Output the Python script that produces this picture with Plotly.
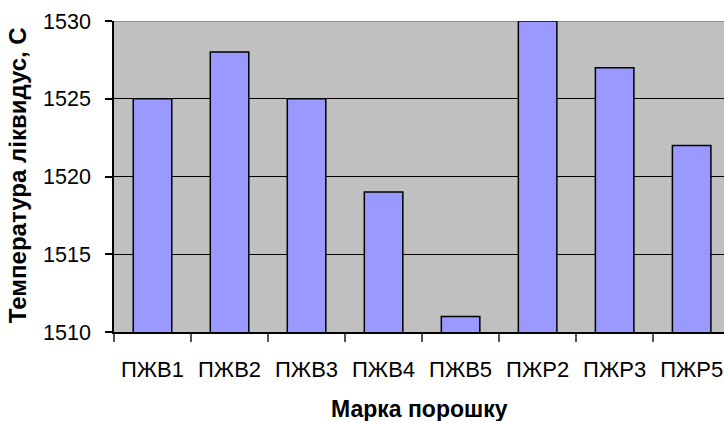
import plotly.graph_objects as go

# Liquidus temperature by powder grade
grades = ["ПЖВ1", "ПЖВ2", "ПЖВ3", "ПЖВ4", "ПЖВ5", "ПЖР2", "ПЖР3", "ПЖР5"]
liquidus_temp = [1525, 1528, 1525, 1519, 1511, 1530, 1527, 1522]
y_ticks = [1510, 1515, 1520, 1525, 1530]

FONT = "Liberation Sans, Arial, sans-serif"

fig = go.Figure(
    go.Bar(
        x=grades,
        y=liquidus_temp,
        marker=dict(color="#9999FF", line=dict(color="#000000", width=1.5)),
        hoverinfo="x+y",
    )
)

fig.update_layout(
    width=724,
    height=421,
    margin=dict(l=114, r=0, t=21, b=89),
    paper_bgcolor="#FFFFFF",
    plot_bgcolor="#C0C0C0",
    bargap=0.5,
    showlegend=False,
    font=dict(family=FONT, size=21, color="#000000"),
    shapes=[
        dict(type="line", xref="paper", yref="y", x0=0, x1=1, y0=1530, y1=1530,
             line=dict(color="#808080", width=1.5), layer="below"),
    ],
    annotations=[
        dict(text="<b>Марка порошку</b>", xref="paper", yref="paper",
             x=0.5, y=-0.2, xanchor="center", yanchor="top",
             showarrow=False, font=dict(family=FONT, size=23)),
        dict(text="<b>Температура ліквидус, С</b>", xref="paper", yref="paper",
             x=-0.158, y=0.503, xanchor="center", yanchor="middle", textangle=-90,
             showarrow=False, font=dict(family=FONT, size=24)),
    ],
)

fig.update_xaxes(
    type="category",
    range=[-0.5, 7.42],
    showline=True,
    linecolor="#000000",
    linewidth=1.5,
    ticks="outside",
    tickson="boundaries",
    ticklen=8,
    tickcolor="#555555",
    tickwidth=1.5,
    showgrid=False,
    ticklabelstandoff=17,
    tickfont=dict(family=FONT, size=22),
)

fig.update_yaxes(
    range=[1510, 1530],
    tickvals=y_ticks,
    showline=True,
    linecolor="#000000",
    linewidth=1.5,
    ticks="outside",
    ticklen=7,
    tickcolor="#000000",
    tickwidth=1.5,
    showgrid=True,
    gridcolor="#000000",
    gridwidth=1.2,
    zeroline=False,
    ticklabelstandoff=10,
    tickfont=dict(family=FONT, size=21.5),
)

fig.write_html("out.html")
